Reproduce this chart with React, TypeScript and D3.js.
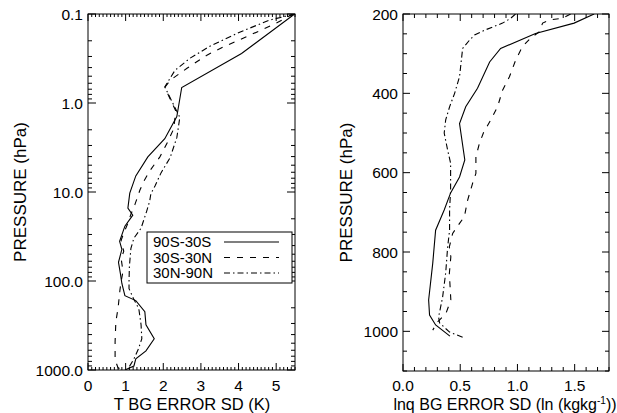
import React from "react";
import * as d3 from "d3";

// Background error standard deviation profiles, temperature (left) and lnq (right).
// Each point is [value, pressure in hPa].
const tSouth: [number, number][] = [
  [5.49, 0.1], [4.08, 0.278], [2.49, 0.67], [2.36, 1.42], [2.04, 2.52], [1.59, 4.03],
  [1.27, 6.6], [1.11, 10.3], [1.06, 15.2], [1.19, 18.2], [0.98, 24.2], [0.84, 35.8],
  [0.9, 44], [0.81, 61.8], [0.86, 82.2], [0.9, 106.6], [0.98, 146], [1.27, 166],
  [1.51, 221], [1.54, 310], [1.76, 446], [1.54, 610], [1.27, 751], [1.22, 902], [0.98, 1000],
];
const tTropics: [number, number][] = [
  [5.45, 0.1], [5.0, 0.127], [4.3, 0.173], [3.58, 0.236], [3.16, 0.29], [2.63, 0.407],
  [2.18, 0.557], [2.04, 0.668], [2.33, 1.22], [2.28, 1.94], [2.12, 2.72], [1.91, 4.03],
  [1.64, 5.8], [1.49, 7.5], [1.38, 9.5], [1.25, 13.7], [1.14, 17.8], [1.06, 22.4],
  [0.95, 29], [0.88, 34.9], [0.95, 46.4], [0.88, 55.7], [0.93, 78], [0.88, 101],
  [0.85, 125], [0.8, 200], [0.74, 287], [0.72, 483], [0.72, 771], [0.8, 949], [1.0, 1000],
];
const tNorth: [number, number][] = [
  [5.49, 0.1], [4.83, 0.117], [4.03, 0.16], [3.24, 0.23], [2.71, 0.314], [2.31, 0.43],
  [2.04, 0.66], [2.44, 1.45], [2.36, 2.45], [2.18, 4.13], [1.94, 6.1], [1.78, 8.55],
  [1.67, 10.5], [1.64, 12.6], [1.56, 16.4], [1.41, 25.5], [1.22, 33], [1.14, 43],
  [1.1, 68.5], [1.09, 101], [1.09, 122], [1.21, 158], [1.35, 205], [1.41, 310],
  [1.43, 446], [1.34, 580], [1.22, 751], [1.06, 975],
];

const qSouth: [number, number][] = [
  [1.67, 200], [1.495, 223], [1.158, 249], [0.853, 287], [0.757, 321], [0.651, 387],
  [0.548, 434], [0.494, 476], [0.54, 568], [0.494, 611], [0.416, 651], [0.36, 694],
  [0.285, 745], [0.26, 828], [0.224, 921], [0.232, 959], [0.285, 984], [0.41, 1012],
];
const qTropics: [number, number][] = [
  [1.465, 200], [1.39, 211], [1.28, 215], [1.22, 223], [1.19, 245], [1.115, 261],
  [1.044, 282], [0.985, 316], [0.93, 358], [0.87, 392], [0.826, 434], [0.767, 467],
  [0.705, 498], [0.668, 526], [0.637, 560], [0.637, 602], [0.608, 627], [0.565, 669],
  [0.536, 711], [0.494, 728], [0.434, 753], [0.405, 787], [0.418, 812], [0.405, 854],
  [0.418, 921], [0.375, 955], [0.3, 977], [0.26, 997],
];
const qNorth: [number, number][] = [
  [0.983, 200], [0.94, 211], [0.87, 223], [0.72, 240], [0.625, 253], [0.581, 266],
  [0.521, 287], [0.494, 358], [0.451, 400], [0.407, 434], [0.373, 467], [0.36, 500],
  [0.39, 543], [0.416, 576], [0.416, 644], [0.407, 694], [0.407, 745], [0.39, 788],
  [0.373, 853], [0.346, 914], [0.311, 964], [0.32, 979], [0.407, 1002], [0.521, 1015],
];

const regions = ["90S-30S", "30S-30N", "30N-90N"];
const dashes = ["none", "6,7", "6,3,1.5,3"];
const tLabelsY = ["0.1", "1.0", "10.0", "100.0", "1000.0"];
const qLabelsX = ["0.0", "0.5", "1.0", "1.5"];

const FONT = "'Liberation Sans', Arial, Helvetica, sans-serif";

export default function App() {
  // left panel
  const L = { x0: 88, x1: 295, y0: 14, y1: 370 };
  const xT = d3.scaleLinear().domain([0, 5.5]).range([L.x0, L.x1]);
  const yT = d3.scaleLog().domain([0.1, 1000]).range([L.y0, L.y1]);
  // right panel
  const R = { x0: 403, x1: 609, y0: 14, y1: 371 };
  const xQ = d3.scaleLinear().domain([0, 1.8]).range([R.x0, R.x1]);
  const yQ = d3.scaleLinear().domain([200, 1100]).range([R.y0, R.y1]);

  const lineT = d3.line<[number, number]>().x((d) => xT(d[0])).y((d) => yT(d[1]));
  const lineQ = d3.line<[number, number]>().x((d) => xQ(d[0])).y((d) => yQ(d[1]));

  const near = (a: number, b: number) => Math.abs(a - Math.round(a / b) * b) < 1e-6;

  const tXTicks = d3.range(0, 55.5).map((i) => i / 10);
  const tYTicks = yT.ticks();
  const qXTicks = d3.range(0, 18.5).map((i) => i / 10);
  const qYTicks = d3.range(200, 1101, 50);

  const tick = (k: string, x1: number, y1: number, x2: number, y2: number) => (
    <line key={k} x1={x1} y1={y1} x2={x2} y2={y2} stroke="#000" strokeWidth={1} />
  );

  return (
    <svg
      width={617}
      height={413}
      style={{ position: "absolute", left: 0, top: 0, background: "#fff" }}
      fontFamily={FONT}
    >
      <defs>
        <clipPath id="clipT">
          <rect x={L.x0} y={L.y0} width={L.x1 - L.x0} height={L.y1 - L.y0} />
        </clipPath>
        <clipPath id="clipQ">
          <rect x={R.x0} y={R.y0} width={R.x1 - R.x0} height={R.y1 - R.y0} />
        </clipPath>
      </defs>

      {/* ---------- left panel ---------- */}
      <g>
        {tXTicks.map((v, i) => {
          const len = near(v, 1) ? 7 : 3;
          return (
            <g key={"tx" + i}>
              {tick("b", xT(v), L.y1, xT(v), L.y1 - len)}
              {tick("t", xT(v), L.y0, xT(v), L.y0 + len)}
            </g>
          );
        })}
        {tYTicks.map((v, i) => {
          const major = near(Math.log10(v), 1);
          const len = major ? 8 : 4;
          return (
            <g key={"ty" + i}>
              {tick("l", L.x0, yT(v), L.x0 + len, yT(v))}
              {tick("r", L.x1, yT(v), L.x1 - len, yT(v))}
            </g>
          );
        })}
        {d3.range(0, 6).map((v) => (
          <text key={"txl" + v} x={xT(v)} y={391} fontSize={15.5} textAnchor="middle">
            {v}
          </text>
        ))}
        {tLabelsY.map((s, i) => (
          <text key={"tyl" + i} x={83} y={yT(Math.pow(10, i - 1)) + 5.5} fontSize={15.5} textAnchor="end">
            {s}
          </text>
        ))}
        <g clipPath="url(#clipT)" fill="none" stroke="#000" strokeWidth={1.1}>
          {[tSouth, tTropics, tNorth].map((s, i) => (
            <path key={i} d={lineT(s) || ""} strokeDasharray={dashes[i]} />
          ))}
        </g>
        <rect x={L.x0} y={L.y0} width={L.x1 - L.x0} height={L.y1 - L.y0} fill="none" stroke="#000" />
        <text x={192} y={410} fontSize={16.5} textAnchor="middle">
          T BG ERROR SD (K)
        </text>
        <text transform={`translate(26,${(L.y0 + L.y1) / 2}) rotate(-90)`} fontSize={17} textAnchor="middle">
          PRESSURE (hPa)
        </text>

        {/* legend */}
        <rect x={147} y={232} width={145} height={51} fill="#fff" stroke="#000" />
        {regions.map((r, i) => (
          <g key={r}>
            <text x={153} y={247 + i * 15.5} fontSize={15}>
              {r}
            </text>
            <line
              x1={224}
              x2={279}
              y1={242 + i * 15.5}
              y2={242 + i * 15.5}
              stroke="#000"
              strokeWidth={1.1}
              strokeDasharray={dashes[i]}
            />
          </g>
        ))}
      </g>

      {/* ---------- right panel ---------- */}
      <g>
        {qXTicks.map((v, i) => {
          const len = near(v, 0.5) ? 7 : 4;
          return (
            <g key={"qx" + i}>
              {tick("b", xQ(v), R.y1, xQ(v), R.y1 - len)}
              {tick("t", xQ(v), R.y0, xQ(v), R.y0 + len)}
            </g>
          );
        })}
        {qYTicks.map((v, i) => {
          const len = v % 200 === 0 ? 7 : 4;
          return (
            <g key={"qy" + i}>
              {tick("l", R.x0, yQ(v), R.x0 + len, yQ(v))}
              {tick("r", R.x1, yQ(v), R.x1 - len, yQ(v))}
            </g>
          );
        })}
        {qLabelsX.map((s, i) => (
          <text key={"qxl" + i} x={xQ(i * 0.5)} y={391} fontSize={15.5} textAnchor="middle">
            {s}
          </text>
        ))}
        {[200, 400, 600, 800, 1000].map((v) => (
          <text key={"qyl" + v} x={398} y={yQ(v) + 5.5} fontSize={15.5} textAnchor="end">
            {v}
          </text>
        ))}
        <g clipPath="url(#clipQ)" fill="none" stroke="#000" strokeWidth={1.1}>
          {[qSouth, qTropics, qNorth].map((s, i) => (
            <path key={i} d={lineQ(s) || ""} strokeDasharray={dashes[i]} />
          ))}
        </g>
        <rect x={R.x0} y={R.y0} width={R.x1 - R.x0} height={R.y1 - R.y0} fill="none" stroke="#000" />
        <text x={505} y={410} fontSize={16} textAnchor="middle">
          lnq BG ERROR SD (ln (kgkg
          <tspan dy={-6} fontSize={10}>
            -1
          </tspan>
          <tspan dy={6}>))</tspan>
        </text>
        <text transform={`translate(352,${(R.y0 + R.y1) / 2}) rotate(-90)`} fontSize={17} textAnchor="middle">
          PRESSURE (hPa)
        </text>
      </g>
    </svg>
  );
}
